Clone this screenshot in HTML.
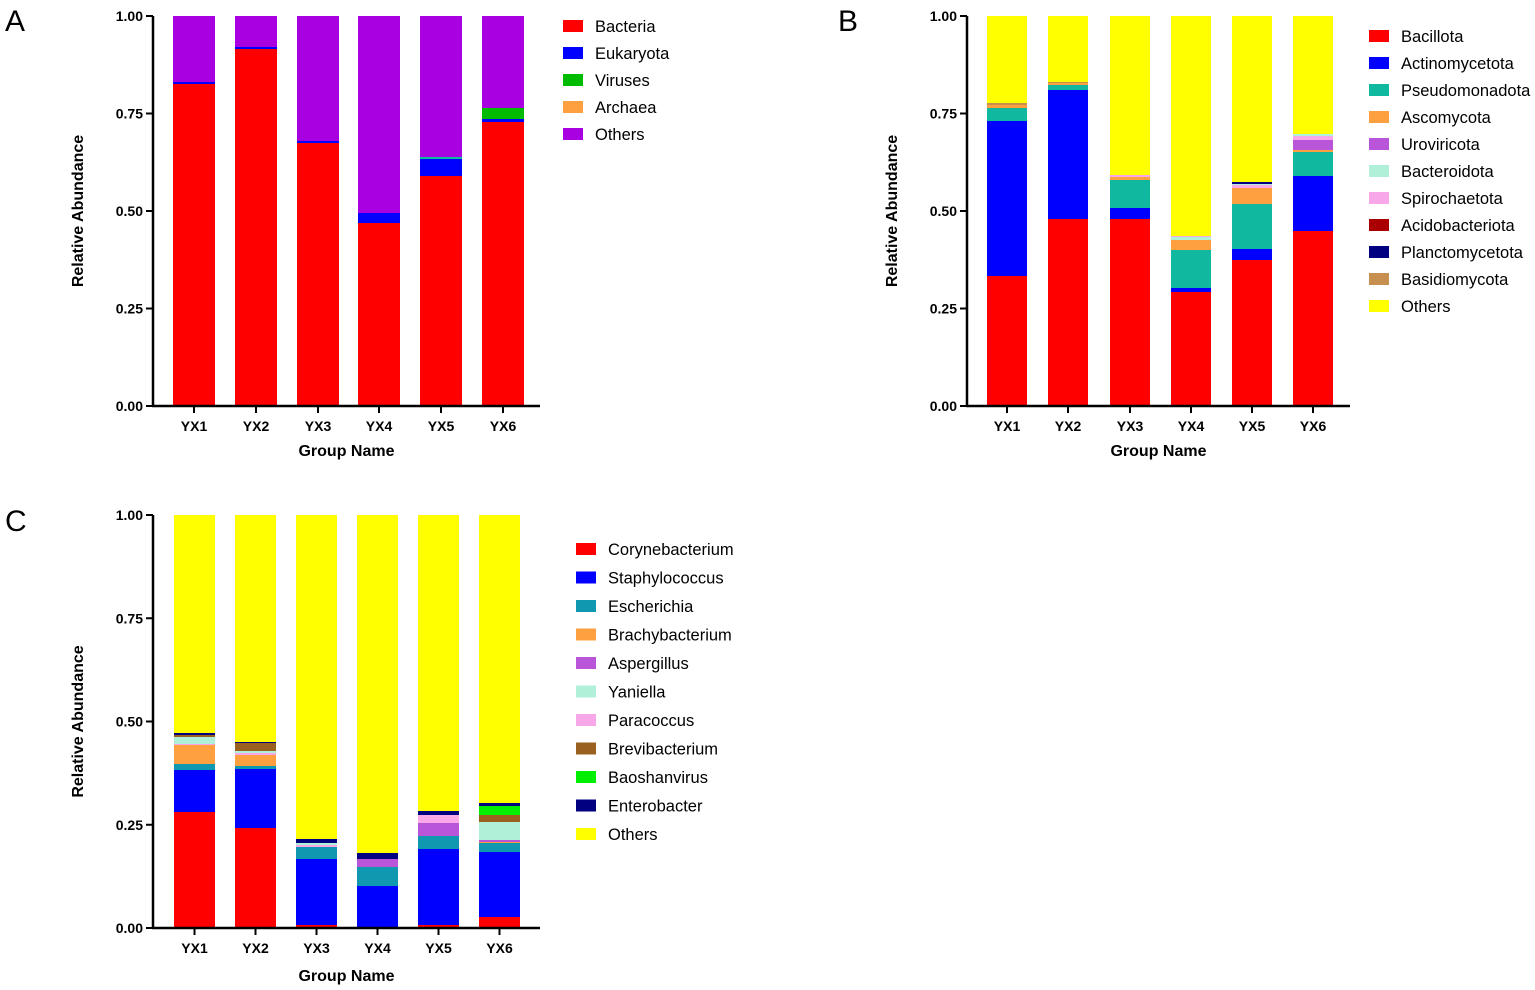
<!DOCTYPE html>
<html><head><meta charset="utf-8"><style>
body{margin:0;background:#fff}
svg{display:block;font-family:"Liberation Sans",Arial,sans-serif}
.t{font-size:14px;font-weight:bold}
.ax{font-size:16px;font-weight:bold}
.lg{font-size:16.5px}
.pl{font-size:30px}
</style></head><body>
<svg id="s" width="1535" height="990" viewBox="0 0 1535 990" xmlns="http://www.w3.org/2000/svg">
<text class="pl" x="5" y="31">A</text>
<text class="pl" x="838" y="31">B</text>
<text class="pl" x="5" y="531">C</text>
</svg>
<script>
const S=document.getElementById('s');const NS='http://www.w3.org/2000/svg';
function el(t,a,txt){const e=document.createElementNS(NS,t);for(const k in a)e.setAttribute(k,a[k]);if(txt!==undefined)e.textContent=txt;S.appendChild(e);return e;}
const C={red:'#ff0000',blue:'#0000ff',green:'#00bb00',orange:'#ffa040',purple:'#a800e0',teal:'#10b8a0',uro:'#b855d8',mint:'#b0f0d8',pink:'#f8a8e8',dred:'#aa0000',navy:'#000080',tan:'#c89050',yellow:'#ffff00',esc:'#1098b0',brown:'#9a6020',lime:'#00ee00'};
function panel(ax,top,bot,axR,bars,bw,segs,leg,lx,ly,ldy,xtitleY){
  bars.forEach((bx,i)=>{let prev=bot;segs[i].forEach(([c,y])=>{el('rect',{x:bx,y:y,width:bw,height:prev-y,fill:C[c]});prev=y;});});
  el('line',{x1:ax,y1:top,x2:ax,y2:bot+1,stroke:'#000','stroke-width':2.5});
  el('line',{x1:ax-1,y1:bot,x2:axR,y2:bot,stroke:'#000','stroke-width':2.5});
  ['0.00','0.25','0.50','0.75','1.00'].forEach((l,i)=>{const y=bot-(bot-top)*i/4;
    el('line',{x1:ax-7,y1:y,x2:ax,y2:y,stroke:'#000','stroke-width':2});
    el('text',{class:'t',x:ax-10,y:y+5,'text-anchor':'end'},l);});
  bars.forEach((bx,i)=>{const cx=bx+bw/2;el('line',{x1:cx,y1:bot,x2:cx,y2:bot+7,stroke:'#000','stroke-width':2});
    el('text',{class:'t',x:cx,y:bot+25,'text-anchor':'middle'},'YX'+(i+1));});
  const mid=(ax+axR)/2;el('text',{class:'ax',x:mid,y:xtitleY,'text-anchor':'middle'},'Group Name');
  const my=(top+bot)/2;el('text',{class:'ax',x:0,y:0,'text-anchor':'middle',transform:`translate(${ax-70},${my}) rotate(-90)`},'Relative Abundance');
  leg.forEach(([c,n],i)=>{const y=ly+i*ldy;el('rect',{x:lx,y:y-6,width:20,height:12,fill:C[c]});el('text',{class:'lg',x:lx+32,y:y+6},n);});
}
panel(153,16,406,540,[173,235,297,358,420,482],42,[
 [['red',84],['blue',82],['purple',16]],
 [['red',49],['blue',47],['purple',16]],
 [['red',143],['blue',141],['purple',16]],
 [['red',223],['blue',213],['purple',16]],
 [['red',176],['blue',159],['teal',157],['purple',16]],
 [['red',122],['blue',119],['green',108],['purple',16]]],
 [['red','Bacteria'],['blue','Eukaryota'],['green','Viruses'],['orange','Archaea'],['purple','Others']],563,26,27,456);
panel(967,16,406,1350,[987,1048,1110,1171,1232,1293],40,[
 [['red',276],['blue',121],['teal',108],['orange',105],['tan',103],['yellow',16]],
 [['red',219],['blue',90],['teal',85],['orange',83],['tan',82],['yellow',16]],
 [['red',219],['blue',208],['teal',180],['orange',177],['pink',175],['yellow',16]],
 [['red',292],['blue',288],['teal',250],['orange',240],['mint',237],['pink',236],['yellow',16]],
 [['red',260],['blue',249],['teal',204],['orange',188],['pink',185],['mint',184],['navy',182],['yellow',16]],
 [['red',231],['blue',176],['teal',152],['orange',150],['uro',140],['pink',136],['mint',134],['yellow',16]]],
 [['red','Bacillota'],['blue','Actinomycetota'],['teal','Pseudomonadota'],['orange','Ascomycota'],['uro','Uroviricota'],['mint','Bacteroidota'],['pink','Spirochaetota'],['dred','Acidobacteriota'],['navy','Planctomycetota'],['tan','Basidiomycota'],['yellow','Others']],1369,36,27,456);
panel(153,515,928,540,[174,235,296,357,418,479],41,[
 [['red',812],['blue',770],['esc',764],['orange',745],['pink',744],['mint',737],['brown',735],['navy',733],['yellow',515]],
 [['red',828],['blue',769],['esc',766],['orange',755],['pink',753],['mint',751],['brown',743],['navy',742],['yellow',515]],
 [['red',925],['blue',859],['esc',847],['pink',845],['mint',843],['navy',839],['yellow',515]],
 [['blue',886],['esc',867],['uro',859],['navy',853],['yellow',515]],
 [['red',925],['blue',849],['esc',836],['uro',823],['pink',815],['navy',811],['yellow',515]],
 [['red',917],['blue',852],['esc',843],['orange',842],['uro',840],['mint',822],['brown',815],['lime',806],['navy',803],['yellow',515]]],
 [['red','Corynebacterium'],['blue','Staphylococcus'],['esc','Escherichia'],['orange','Brachybacterium'],['uro','Aspergillus'],['mint','Yaniella'],['pink','Paracoccus'],['brown','Brevibacterium'],['lime','Baoshanvirus'],['navy','Enterobacter'],['yellow','Others']],576,549,28.5,981);
</script>
</body></html>
